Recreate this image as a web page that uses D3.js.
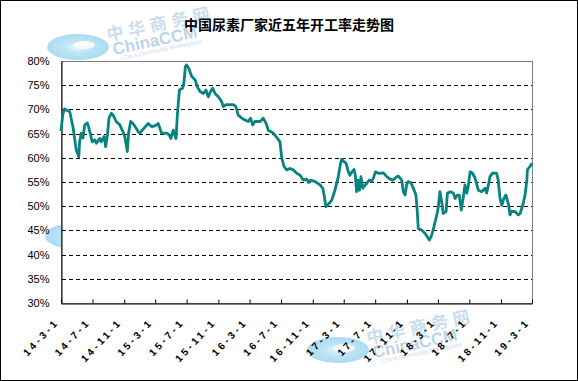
<!DOCTYPE html>
<html>
<head>
<meta charset="utf-8">
<script src="https://cdn.jsdelivr.net/npm/d3@7"></script>
<style>
  body { margin: 0; background: #fff; }
  svg text { font-family: "Liberation Sans", Arial, sans-serif; }
</style>
</head>
<body>
<div id="chart"></div>
<script>
// weekly-ish readings of the operating rate (%)
var dates = ["2014-03-01","2014-03-08","2014-03-15","2014-04-04","2014-04-17","2014-04-29","2014-05-09","2014-05-12","2014-05-19","2014-05-25",
  "2014-06-01","2014-06-11","2014-06-16","2014-06-24","2014-06-30","2014-07-10","2014-07-16","2014-07-29","2014-08-04","2014-08-15",
  "2014-08-21","2014-08-28","2014-09-03","2014-09-12","2014-09-19","2014-10-01","2014-10-15","2014-10-27","2014-11-03","2014-11-09",
  "2014-11-13","2014-11-18","2014-11-26","2014-12-05","2014-12-14","2014-12-25","2015-01-01","2015-01-21","2015-02-02","2015-02-16",
  "2015-03-07","2015-03-13","2015-03-26","2015-04-15","2015-04-25","2015-05-01","2015-05-10","2015-05-21","2015-05-26","2015-06-03",
  "2015-06-16","2015-06-21","2015-06-26","2015-07-01","2015-07-09","2015-07-14","2015-07-21","2015-08-03","2015-08-11","2015-08-22",
  "2015-09-04","2015-09-14","2015-09-23","2015-10-02","2015-10-10","2015-10-19","2015-11-01","2015-11-14","2015-11-20","2015-12-03",
  "2015-12-29","2016-01-08","2016-01-17","2016-01-31","2016-02-12","2016-02-25","2016-03-05","2016-03-13","2016-03-22","2016-04-11",
  "2016-04-23","2016-05-04","2016-05-13","2016-06-01","2016-06-17","2016-06-27","2016-07-04","2016-07-13","2016-07-23","2016-08-05",
  "2016-08-18","2016-08-31","2016-09-13","2016-09-25","2016-10-09","2016-10-15","2016-10-24","2016-11-10","2016-11-29","2016-12-10",
  "2016-12-15","2016-12-22","2017-01-04","2017-01-14","2017-01-26","2017-02-08","2017-02-17","2017-02-21","2017-03-02","2017-03-10",
  "2017-03-19","2017-03-25","2017-04-02","2017-04-10","2017-04-15","2017-04-20","2017-04-25","2017-05-01","2017-05-07","2017-05-14",
  "2017-05-19","2017-05-29","2017-06-08","2017-06-18","2017-06-26","2017-07-02","2017-07-13","2017-08-02","2017-08-15","2017-08-28",
  "2017-09-09","2017-09-23","2017-09-29","2017-10-12","2017-10-18","2017-10-25","2017-10-31","2017-11-06","2017-11-16","2017-11-26",
  "2017-12-06","2017-12-11","2017-12-15","2017-12-28","2018-01-10","2018-01-19","2018-01-27","2018-02-05","2018-02-14","2018-02-25",
  "2018-03-03","2018-03-09","2018-03-16","2018-03-22","2018-04-02","2018-04-07","2018-04-20","2018-04-30","2018-05-07","2018-05-15",
  "2018-05-23","2018-05-31","2018-06-08","2018-06-14","2018-06-21","2018-06-27","2018-07-04","2018-07-14","2018-07-23","2018-08-05",
  "2018-08-18","2018-08-31","2018-09-06","2018-09-13","2018-09-19","2018-09-30","2018-10-15","2018-10-21","2018-10-28","2018-11-04",
  "2018-11-12","2018-11-20","2018-11-29","2018-12-06","2018-12-12","2018-12-25","2019-01-07","2019-01-14","2019-01-24","2019-02-02",
  "2019-02-09","2019-02-11","2019-02-21","2019-03-01"];

var rates = [65.5,69,70.1,69.5,66.2,61.6,60.2,63.3,65.1,64.1,
  66.8,67.2,66.4,64.7,63.3,63.7,63,64,63.3,64.4,
  62.3,64.7,68.2,69.2,68.8,67.5,66.8,65.4,64.4,62.6,
  61.3,65.1,67.5,67.1,66.4,65.4,65.1,66.4,67.1,66.4,
  66.8,67.1,65.1,65.1,64.7,64,65.7,64,68.8,74,
  74.4,75.7,78.8,79.2,78.5,77.8,76.8,76.1,74.7,73.7,
  73.3,74,72.6,73.7,74.4,73.3,72.6,71.6,70.6,71,
  71,70.6,68.8,68.2,67.8,67.5,68.2,66.8,67.5,67.5,
  68.2,67.1,65.7,65.1,64,63.3,59.9,58.2,57.5,57.8,
  57.5,56.8,56.4,55.4,55.6,54.9,55.4,55.1,54.4,53.7,
  52.3,49.9,50.6,51.3,53.3,56.1,58.9,59.7,59.2,58.9,
  57.1,56.4,57.1,57.6,56.4,53,55.4,53.3,56.1,53.7,
  54.1,54.7,55.4,55.1,56.1,57.1,56.8,56.9,56.1,55.6,
  55.4,56.1,56.2,55.4,53,52.3,54.4,55.1,54.9,53.7,
  52.3,49.2,45.4,45.1,44.4,43.7,43,44,45.8,48.2,
  49.9,53,50.9,48.5,48.9,52.7,53,52.7,51.6,52.3,
  52.3,49.2,52,54.4,52.7,54.1,57.1,56.8,55.8,53.3,
  53,53.7,52.7,54.4,56.1,56.9,56.8,55.4,51.6,50.2,
  51.6,52.3,50.6,48.2,48.9,48.9,48.2,48.5,50.2,52.3,
  55.4,57.5,58.2,58.9];

var xLabels = ["14-3-1","14-7-1","14-11-1","15-3-1","15-7-1","15-11-1","16-3-1","16-7-1",
  "16-11-1","17-3-1","17-7-1","17-11-1","18-3-1","18-7-1","18-11-1","19-3-1"];
var yTicks = [30,35,40,45,50,55,60,65,70,75,80];
var title = "中国尿素厂家近五年开工率走势图";

var svgWidth = 578, svgHeight = 381;
var margin = { top: 61, left: 61, right: 46, bottom: 78 };
var width = svgWidth - margin.left - margin.right;
var height = svgHeight - margin.top - margin.bottom;

var parseDate = d3.timeParse("%Y-%m-%d");
var parseLabel = function(s) {
  var p = s.split("-");
  return new Date(2000 + (+p[0]), +p[1] - 1, +p[2]);
};

var data = dates.map(function(d, i) { return { date: parseDate(d), rate: rates[i] }; });

var svg = d3.select("#chart").append("svg")
  .attr("width", svgWidth).attr("height", svgHeight);

svg.append("rect")
  .attr("width", svgWidth).attr("height", svgHeight).attr("fill", "#fff");

// faded site logo behind the chart
var defs = svg.append("defs");
var grad = defs.append("radialGradient").attr("id", "wmGrad");
grad.append("stop").attr("offset", "0%").attr("stop-color", "#e6f5fc");
grad.append("stop").attr("offset", "45%").attr("stop-color", "#a9dcf3");
grad.append("stop").attr("offset", "100%").attr("stop-color", "#8fd0ef");

function watermark(cx, cy) {
  var g = svg.append("g").attr("opacity", 0.75);
  g.append("ellipse")
    .attr("cx", cx).attr("cy", cy).attr("rx", 31).attr("ry", 13)
    .attr("fill", "url(#wmGrad)");
  g.append("ellipse")
    .attr("cx", cx + 6).attr("cy", cy - 2).attr("rx", 11).attr("ry", 4)
    .attr("fill", "#f2fafe");
  g.append("text")
    .attr("transform", "translate(" + (cx + 30) + "," + (cy - 6) + ") rotate(-12)")
    .attr("font-size", 17).attr("font-weight", "bold")
    .attr("letter-spacing", 5)
    .style("font-family", "'Noto Sans CJK SC', sans-serif")
    .attr("fill", "#b7d3ea")
    .text("中华商务网");
  g.append("text")
    .attr("transform", "translate(" + (cx + 36) + "," + (cy + 8) + ") rotate(-12)")
    .attr("font-size", 17).attr("font-weight", "bold")
    .attr("fill", "#a9c6e2")
    .text("ChinaCCM");
  g.append("text")
    .attr("transform", "translate(" + (cx + 44) + "," + (cy + 13) + ") rotate(-12)")
    .attr("font-size", 6)
    .attr("fill", "#b9cfe6")
    .text("China Commodity Marketplace");
}
watermark(78, 47);
watermark(76, 236);
watermark(338, 350);

var chartGroup = svg.append("g")
  .attr("transform", "translate(" + margin.left + "," + margin.top + ")");

var xScale = d3.scaleTime()
  .domain([parseLabel(xLabels[0]), parseLabel(xLabels[xLabels.length - 1])])
  .range([0, width]);

var yScale = d3.scaleLinear()
  .domain([30, 80])
  .range([height, 0]);

// plot area
chartGroup.append("rect")
  .attr("width", width).attr("height", height)
  .attr("fill", "#fff").attr("stroke", "#808080").attr("stroke-width", 1)
  .attr("x", 0.5).attr("y", 0.5);

// dashed gridlines
chartGroup.selectAll(".grid")
  .data(yTicks.filter(function(t) { return t > 30 && t < 80; }))
  .enter().append("line")
  .attr("class", "grid")
  .attr("x1", 1).attr("x2", width)
  .attr("y1", function(d) { return Math.round(yScale(d)) + 0.5; })
  .attr("y2", function(d) { return Math.round(yScale(d)) + 0.5; })
  .attr("stroke", "#000").attr("stroke-width", 1)
  .attr("stroke-dasharray", "4,3");

// y axis
var leftAxis = d3.axisLeft(yScale)
  .tickValues(yTicks).tickSize(0).tickPadding(12)
  .tickFormat(function(d) { return d + "%"; });

var yAxisG = chartGroup.append("g")
  .attr("transform", "translate(0.5,0)")
  .call(leftAxis);
yAxisG.select(".domain").attr("stroke", "#000");
yAxisG.selectAll("text")
  .attr("font-size", 11).attr("fill", "#000")
  .style("font-family", "'Liberation Sans', Arial, sans-serif");

// x axis, ticks point up into the plot
var bottomAxis = d3.axisBottom(xScale)
  .tickValues(xLabels.map(parseLabel))
  .tickSizeInner(-4).tickSizeOuter(0)
  .tickFormat(function(d, i) { return xLabels[i]; });

var xAxisG = chartGroup.append("g")
  .attr("transform", "translate(0," + (height + 0.5) + ")")
  .call(bottomAxis);
xAxisG.select(".domain").attr("stroke", "#000");
xAxisG.selectAll("line").attr("stroke", "#000");
xAxisG.selectAll("text")
  .attr("font-size", 10).attr("font-weight", "bold").attr("fill", "#000")
  .attr("letter-spacing", 3)
  .attr("text-anchor", "end")
  .attr("dy", null).attr("y", null)
  .attr("transform", "translate(-2,19) rotate(-47)");

// the rate line
var line = d3.line()
  .x(function(d) { return xScale(d.date); })
  .y(function(d) { return yScale(d.rate); });

chartGroup.append("path")
  .datum(data)
  .attr("fill", "none")
  .attr("stroke", "#088480")
  .attr("stroke-width", 2.8)
  .attr("stroke-linejoin", "round")
  .attr("d", line);

// title
svg.append("text")
  .attr("x", 289).attr("y", 30)
  .attr("text-anchor", "middle")
  .attr("font-size", 14).attr("font-weight", "bold")
  .style("font-family", "'Noto Sans CJK SC', sans-serif")
  .text(title);

// outer frame
svg.append("rect")
  .attr("x", 0.5).attr("y", 0.5)
  .attr("width", svgWidth - 1).attr("height", svgHeight - 1)
  .attr("fill", "none").attr("stroke", "#000");
</script>
</body>
</html>
